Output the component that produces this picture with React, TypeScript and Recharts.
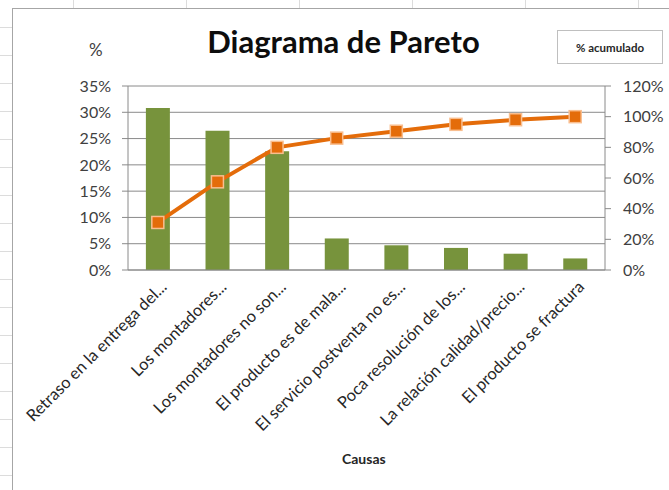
import { Bar, CartesianGrid, ComposedChart, Line, XAxis, YAxis } from "recharts";

// causes, sorted by share of complaints
const causas = [
  "Retraso en la entrega del...",
  "Los montadores...",
  "Los montadores no son...",
  "El producto es de mala...",
  "El servicio postventa no es...",
  "Poca resolución de los...",
  "La relación calidad/precio...",
  "El producto se fractura",
];
// % of total per cause (left axis)
const porcentaje = [30.8, 26.5, 22.6, 6.0, 4.7, 4.2, 3.1, 2.2];
// cumulative % (right axis)
const acumulado = [31, 57.5, 80, 86, 90.5, 95, 98, 100];

const leftTicks = [0, 5, 10, 15, 20, 25, 30, 35];
const rightTicks = [0, 20, 40, 60, 80, 100, 120];

const data = causas.map((c, i) => ({ causa: c, pct: porcentaje[i], acum: acumulado[i] }));

const FONT = "Lato, 'Open Sans', sans-serif";
const AXIS = "#8a8a8a";

function CauseTick(props: any) {
  const { x, y, payload } = props;
  const tx = x + 10;
  const ty = y + 10;
  return (
    <text
      x={tx}
      y={ty}
      textAnchor="end"
      fontSize={16.5}
      fontFamily={FONT}
      fill="#262626"
      transform={`rotate(-45, ${tx}, ${ty})`}
    >
      {payload.value}
    </text>
  );
}

function SquareDot(props: any) {
  const { cx, cy, index } = props;
  if (cx == null || cy == null) return null;
  return (
    <rect
      key={`sq-${index}`}
      x={cx - 6}
      y={cy - 6}
      width={12}
      height={12}
      fill="#E46C0A"
      stroke="#F9BE8F"
      strokeWidth={1.5}
    />
  );
}

export default function App() {
  return (
    <div
      style={{
        position: "absolute",
        left: 0,
        top: 0,
        width: 669,
        height: 490,
        overflow: "hidden",
        background: "#fff",
        fontFamily: FONT,
      }}
    >
      {/* spreadsheet cells behind the chart */}
      <div
        style={{
          position: "absolute",
          left: 0,
          top: 0,
          width: 13,
          height: 490,
          backgroundImage:
            "repeating-linear-gradient(to bottom, transparent 0px, transparent 27px, #dcdcdc 27px, #dcdcdc 28px)",
        }}
      />
      <div
        style={{
          position: "absolute",
          left: 0,
          top: 0,
          width: 669,
          height: 8,
          backgroundImage:
            "repeating-linear-gradient(to right, transparent 0px, transparent 73px, #dcdcdc 73px, #dcdcdc 74px, transparent 74px, transparent 113px)",
        }}
      />
      <div
        style={{
          position: "absolute",
          left: 12,
          top: 8,
          width: 700,
          height: 520,
          border: "1px solid #a6a6a6",
          background: "#fff",
        }}
      />

      <ComposedChart
        width={669}
        height={490}
        data={data}
        margin={{ top: 86, right: 14, bottom: 60, left: 68 }}
        barCategoryGap="30%"
        style={{ position: "absolute", left: 0, top: 0 }}
      >
        <CartesianGrid yAxisId="left" vertical={false} stroke={AXIS} strokeWidth={1} />
        <XAxis
          dataKey="causa"
          interval={0}
          height={160}
          tick={<CauseTick />}
          tickLine={false}
          axisLine={{ stroke: AXIS }}
        />
        <YAxis
          yAxisId="left"
          width={60}
          domain={[0, 35]}
          ticks={leftTicks}
          tickFormatter={(v: number) => `${v}%`}
          tick={{ fill: "#404040", fontSize: 16, fontFamily: FONT }}
          tickSize={6}
          tickMargin={11}
          tickLine={{ stroke: AXIS }}
          axisLine={{ stroke: AXIS }}
        />
        <YAxis
          yAxisId="right"
          orientation="right"
          width={50}
          domain={[0, 120]}
          ticks={rightTicks}
          tickFormatter={(v: number) => `${v}%`}
          tick={{ fill: "#404040", fontSize: 16, fontFamily: FONT, textAnchor: "start" }}
          tickSize={6}
          tickMargin={12}
          tickLine={{ stroke: AXIS }}
          axisLine={{ stroke: AXIS }}
        />
        <Bar yAxisId="left" dataKey="pct" fill="#77933C" isAnimationActive={false} />
        <Line
          yAxisId="right"
          dataKey="acum"
          type="linear"
          stroke="#E46C0A"
          strokeWidth={4}
          dot={<SquareDot />}
          activeDot={false}
          isAnimationActive={false}
        />
      </ComposedChart>

      <div
        style={{
          position: "absolute",
          left: 0,
          width: 687,
          top: 22,
          textAlign: "center",
          fontSize: 31,
          fontWeight: 700,
          color: "#0d0d0d",
        }}
      >
        Diagrama de Pareto
      </div>
      <div style={{ position: "absolute", left: 89, top: 39, fontSize: 17, color: "#404040" }}>%</div>
      <div
        style={{
          position: "absolute",
          left: 557,
          top: 30,
          width: 104,
          height: 32,
          border: "1px solid #bfbfbf",
          background: "#fff",
          fontSize: 11.5,
          fontWeight: 700,
          color: "#262626",
          display: "flex",
          alignItems: "center",
          justifyContent: "center",
        }}
      >
        % acumulado
      </div>
      <div
        style={{
          position: "absolute",
          left: 342,
          top: 450,
          fontSize: 14,
          fontWeight: 700,
          color: "#262626",
        }}
      >
        Causas
      </div>
    </div>
  );
}
